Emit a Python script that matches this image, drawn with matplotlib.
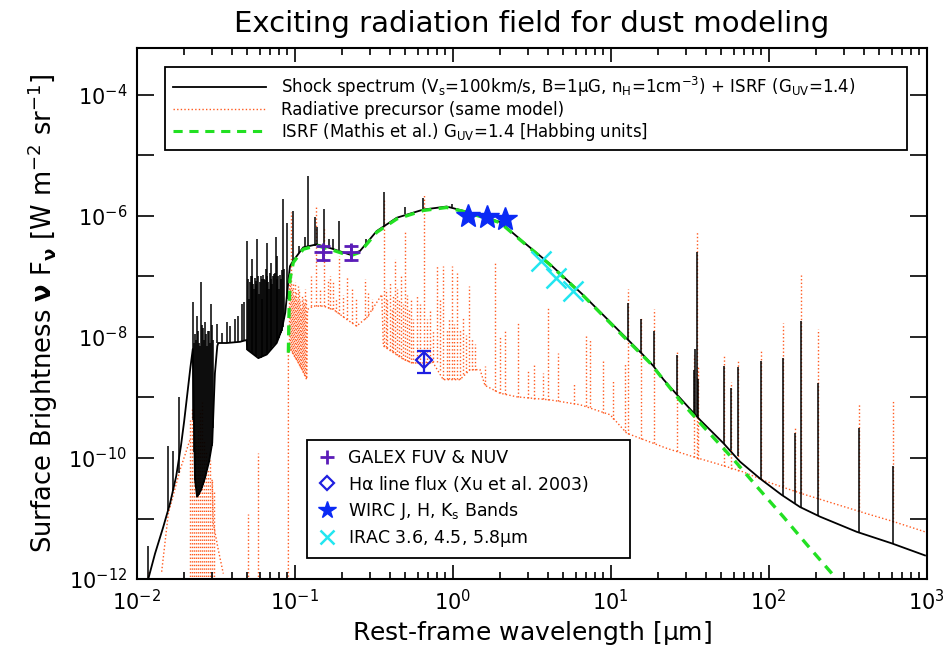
import numpy as np
import matplotlib
matplotlib.use("Agg")
import matplotlib.pyplot as plt
from matplotlib.lines import Line2D
from matplotlib.ticker import FixedLocator, FuncFormatter, NullFormatter

plt.rcParams["font.family"] = "DejaVu Sans"
plt.rcParams["mathtext.fontset"] = "dejavusans"
plt.rcParams["mathtext.default"] = "regular"

# Spectra, stored as log10(lambda / um) and log10(nu F_nu / W m-2 sr-1)

# ISRF (Mathis), G_UV = 1.4
isrf_loglam = [-1.040, -1.036, -1.030, -1.009, -0.946, -0.861, -0.777, -0.650, -0.587,
               -0.481, -0.354, -0.186, -0.038, 0.089, 0.299, 0.447, 0.613, 0.827,
               1.080, 1.249, 1.439, 1.586, 1.776, 1.924, 2.092, 2.241, 2.430]
isrf_logf = [-8.26, -7.60, -7.05, -6.77, -6.55, -6.49, -6.55, -6.66, -6.60,
             -6.27, -6.05, -5.91, -5.86, -5.94, -6.11, -6.44, -6.80, -7.32,
             -7.99, -8.43, -9.05, -9.48, -10.02, -10.47, -10.97, -11.43, -12.00]

# shock spectrum: continuum (lower envelope)
shock_loglam = [-1.950, -1.927, -1.884, -1.832, -1.789, -1.750, -1.720, -1.700, -1.680,
                -1.660, -1.645, -1.631, -1.618, -1.593, -1.568, -1.542, -1.522, -1.505,
                -1.490, -1.484, -1.430, -1.346, -1.304, -1.300, -1.230, -1.177, -1.114,
                -1.082, -1.060, -1.045, -1.030, -1.009, -0.946, -0.861, -0.777, -0.650,
                -0.587, -0.481, -0.354, -0.186, -0.038, 0.089, 0.299, 0.447, 0.613,
                0.827, 1.080, 1.206, 1.270, 1.333, 1.418, 1.565, 1.713, 1.818,
                1.945, 2.082, 2.198, 2.325, 2.557, 2.778, 2.989]
shock_logf = [-12.40, -12.00, -11.58, -11.14, -10.75, -10.30, -9.80, -9.40, -8.95,
              -8.50, -8.20, -10.36, -10.64, -10.53, -10.33, -10.06, -9.75, -8.60,
              -8.15, -8.10, -8.10, -8.08, -8.05, -8.21, -8.35, -8.29, -8.10,
              -7.88, -7.60, -7.20, -6.83, -6.74, -6.52, -6.47, -6.53, -6.64,
              -6.58, -6.25, -6.03, -5.895, -5.845, -5.93, -6.10, -6.43, -6.79,
              -7.31, -7.97, -8.30, -8.48, -8.70, -8.95, -9.37, -9.755, -10.06,
              -10.34, -10.61, -10.81, -10.97, -11.22, -11.41, -11.61]

# shock spectrum: emission lines (position, base, peak)
shock_line_loglam = [-1.927, -1.800, -1.768, -1.730,
                     -1.642, -1.637, -1.631, -1.624, -1.618, -1.612, -1.606, -1.599, -1.593,
                     -1.587, -1.580, -1.574, -1.568, -1.561, -1.555, -1.549, -1.542, -1.536,
                     -1.530, -1.523, -1.517,
                     -1.494, -1.462, -1.427, -1.409, -1.378, -1.361, -1.335, -1.321,
                     -1.300, -1.289, -1.278, -1.268, -1.258, -1.247, -1.237, -1.226, -1.215,
                     -1.205, -1.194, -1.184, -1.173, -1.163, -1.152, -1.142, -1.131, -1.120,
                     -1.110, -1.099, -1.089, -1.076, -1.065, -1.051,
                     -1.013, -0.971, -0.935, -0.918, -0.872, -0.861, -0.813, -0.781, -0.756,
                     -0.718, -0.644, -0.549, -0.433, -0.302, -0.186, -0.006,
                     1.108, 1.192, 1.272, 1.418, 1.527, 1.535, 1.544, 1.555, 1.718, 1.762,
                     1.803, 1.951, 2.089, 2.166, 2.203, 2.315, 2.573, 2.785]
shock_line_base = [-12.05, -10.86, -10.55, -10.25,
                   -9.37, -9.90, -10.36, -10.50, -10.64, -10.63, -10.61, -10.57, -10.53,
                   -10.49, -10.45, -10.39, -10.33, -10.27, -10.20, -10.13, -10.06, -9.97,
                   -9.87, -9.80, -9.50,
                   -8.10, -8.10, -8.10, -8.10, -8.09, -8.09, -8.08, -8.07,
                   -8.21, -8.24, -8.26, -8.27, -8.29, -8.31, -8.32, -8.34, -8.34,
                   -8.32, -8.31, -8.29, -8.27, -8.24, -8.21, -8.17, -8.14, -8.11,
                   -8.07, -8.01, -7.94, -7.84, -7.71, -7.38,
                   -6.74, -6.62, -6.55, -6.55, -6.50, -6.48, -6.49, -6.52, -6.54,
                   -6.57, -6.64, -6.46, -6.17, -5.97, -5.895, -5.845,
                   -8.05, -8.26, -8.48, -8.95, -9.27, -9.29, -9.31, -9.34, -9.77, -9.86,
                   -9.97, -10.35, -10.62, -10.75, -10.82, -10.96, -11.23, -11.42]
shock_line_peak = [-11.45, -9.81, -9.89, -9.00,
                   -7.43, -8.10, -7.95, -8.05, -7.65, -7.90, -8.10, -8.15, -7.10,
                   -7.80, -7.85, -8.05, -7.75, -7.95, -8.15, -7.90, -7.90, -8.10,
                   -7.46, -7.80, -8.05,
                   -7.79, -7.93, -7.76, -7.82, -7.71, -7.655, -7.46, -7.43,
                   -6.41, -7.38, -6.99, -6.715, -7.21, -7.13, -6.38, -7.29, -6.99,
                   -7.38, -7.05, -6.88, -6.44, -7.21, -6.77, -7.13, -6.96, -6.355,
                   -6.66, -7.21, -7.05, -5.72, -6.88, -6.11,
                   -5.914, -6.49, -6.355, -5.333, -6.023, -6.19, -5.886, -6.383, -6.38,
                   -6.08, -6.466, -6.383, -5.599, -5.857, -5.708, -5.80,
                   -7.433, -7.71, -7.904, -8.29, -8.54, -8.20, -6.604, -8.70, -8.48, -8.84,
                   -8.50, -8.40, -8.345, -9.59, -7.74, -8.76, -9.506, -10.14]

# shock spectrum: the dense line forest between 0.05 and 0.09 um
forest_loglam = [-1.295, -1.284, -1.273, -1.263, -1.252, -1.242, -1.231, -1.221, -1.210,
                 -1.200, -1.189, -1.178, -1.168, -1.157, -1.147, -1.136, -1.126, -1.115,
                 -1.104, -1.094, -1.083]
forest_base = [-8.22, -8.25, -8.26, -8.28, -8.30, -8.31, -8.33, -8.34, -8.33,
               -8.31, -8.30, -8.28, -8.25, -8.22, -8.19, -8.15, -8.12, -8.09,
               -8.04, -7.97, -7.90]
forest_peak = [-7.05, -7.10, -7.00, -7.12, -7.02, -7.08, -7.00, -7.10, -7.05,
               -6.98, -7.06, -7.00, -7.10, -6.95, -7.05, -7.00, -6.95, -7.05,
               -7.00, -6.98, -6.90]

# radiative precursor: continuum pieces
prec_fuv_loglam = [-1.842, -1.800, -1.726, -1.663]
prec_fuv_logf = [-11.88, -10.92, -10.20, -9.70]
prec_tail_loglam = [-1.523, -1.515, -1.485, -1.452]
prec_tail_logf = [-10.36, -11.08, -11.50, -11.91]
prec_loglam = [-1.040, -1.040, -0.966, -0.924, -0.919, -0.882, -0.819, -0.756, -0.671,
               -0.608, -0.544, -0.481, -0.449, -0.439, -0.313, -0.249, -0.188, -0.130,
               -0.060, 0.046, 0.110, 0.173, 0.204, 0.300, 0.407, 0.616, 0.806,
               0.996, 1.101, 1.354, 1.523, 1.692, 1.839, 1.987, 2.198, 2.409,
               2.620, 2.789, 2.989]
prec_logf = [-12.50, -8.15, -8.47, -8.705, -7.544, -7.49, -7.49, -7.544, -7.71,
             -7.82, -7.68, -7.43, -7.30, -8.15, -8.37, -8.43, -8.43, -8.40,
             -8.705, -8.705, -8.54, -8.54, -8.80, -8.93, -8.99, -9.04, -9.12,
             -9.285, -9.59, -9.84, -9.98, -10.11, -10.23, -10.39, -10.58, -10.75,
             -10.92, -11.05, -11.22]

# radiative precursor: lines (position, base, peak)
prec_line_loglam = [-1.927,
                    -1.663, -1.650, -1.637, -1.625, -1.612, -1.599, -1.587, -1.574, -1.561,
                    -1.549, -1.536, -1.523, -1.511, -1.297, -1.234,
                    -1.035, -1.029, -1.023, -1.016, -1.010, -1.004, -0.998, -0.991, -0.985,
                    -0.979, -0.972, -0.966, -0.960, -0.953, -0.947, -0.941, -0.934, -0.928,
                    -0.897, -0.865, -0.840, -0.813, -0.789, -0.777, -0.756, -0.739, -0.718,
                    -0.694, -0.671, -0.639, -0.612, -0.555, -0.534, -0.511,
                    -0.438, -0.425, -0.413, -0.400, -0.387, -0.375, -0.365, -0.353, -0.340,
                    -0.327, -0.315, -0.302, -0.289, -0.277, -0.264, -0.251,
                    -0.224, -0.207, -0.182, -0.163, -0.144, -0.125, -0.101, -0.080, -0.059,
                    -0.036, -0.023, -0.006, 0.008, 0.029, 0.046, 0.065, 0.084, 0.105,
                    0.122, 0.141,
                    0.204, 0.268, 0.299, 0.331, 0.415, 0.478, 0.515, 0.570, 0.605,
                    0.668, 0.768, 0.844, 0.869, 0.953, 1.016, 1.091,
                    1.108, 1.192, 1.272, 1.418, 1.527, 1.544, 1.555, 1.718, 1.762,
                    1.803, 1.951, 2.089, 2.166, 2.203, 2.315, 2.573, 2.785]
prec_line_base = [-12.50,
                  -12.50, -12.50, -12.50, -12.50, -12.50, -12.50, -12.50, -12.50, -12.50,
                  -12.50, -12.50, -12.50, -12.50, -12.50, -12.50,
                  -8.16, -8.19, -8.22, -8.25, -8.28, -8.31, -8.34, -8.37, -8.40,
                  -8.43, -8.46, -8.49, -8.52, -8.55, -8.58, -8.61, -8.64, -8.67,
                  -7.49, -7.49, -7.49, -7.49, -7.52, -7.53, -7.54, -7.58, -7.62,
                  -7.67, -7.71, -7.77, -7.82, -7.70, -7.65, -7.56,
                  -8.15, -8.17, -8.19, -8.21, -8.23, -8.25, -8.27, -8.29, -8.31,
                  -8.33, -8.36, -8.38, -8.40, -8.42, -8.43, -8.43,
                  -8.43, -8.43, -8.43, -8.43, -8.43, -8.42, -8.41, -8.55, -8.70,
                  -8.70, -8.70, -8.70, -8.70, -8.70, -8.70, -8.62, -8.58, -8.54,
                  -8.54, -8.54,
                  -8.80, -8.90, -8.93, -8.95, -8.99, -9.01, -9.02, -9.03, -9.04,
                  -9.06, -9.10, -9.14, -9.16, -9.25, -9.36, -9.55,
                  -9.60, -9.68, -9.76, -9.89, -9.98, -10.00, -10.01, -10.13, -10.18,
                  -10.21, -10.35, -10.47, -10.55, -10.58, -10.67, -10.87, -11.05]
prec_line_peak = [-11.88,
                  -9.37, -9.15, -9.53, -9.70, -9.53, -9.20, -9.08, -9.70, -9.87,
                  -10.20, -10.03, -10.36, -10.53, -10.92, -9.92,
                  -7.05, -6.99, -5.93, -7.20, -7.13, -7.30, -7.10, -7.25, -7.38,
                  -7.15, -7.21, -7.40, -7.54, -7.30, -7.38, -7.45, -7.21, -7.35,
                  -7.00, -5.83, -7.21, -6.19, -7.05, -6.99, -7.10, -7.38, -6.66,
                  -7.30, -6.99, -7.21, -7.38, -7.05, -7.27, -7.38,
                  -5.72, -7.21, -7.38, -7.10, -7.54, -7.30, -6.715, -7.21, -7.38,
                  -6.96, -7.46, -6.245, -7.30, -7.54, -7.38, -7.71,
                  -7.30, -7.46, -5.64, -7.71, -7.54, -7.88, -6.83, -7.38, -6.83,
                  -7.876, -7.71, -6.826, -7.79, -6.935, -7.876, -7.68, -7.96, -7.157,
                  -8.04, -8.12,
                  -8.484, -6.743, -7.987, -7.876, -7.765, -8.539, -8.428, -8.594, -7.516,
                  -8.262, -8.760, -7.987, -8.041, -8.373, -8.705, -8.428,
                  -7.212, -7.68, -7.544, -8.25, -8.30, -6.245, -8.50, -8.32, -8.75,
                  -8.40, -8.196, -7.765, -9.48, -6.98, -7.876, -9.09, -9.065]

# photometry (wavelength in um, nu F_nu)
galex_lam = [0.1516, 0.2267]
galex_f = [2.5e-7, 2.5e-7]
galex_err = [[0.6e-7, 0.6e-7], [0.7e-7, 0.7e-7]]
halpha_lam = [0.6563]
halpha_f = [4.2e-9]
halpha_err = [[1.7e-9], [1.6e-9]]
wirc_lam = [1.25, 1.65, 2.15]
wirc_f = [1.0e-6, 9.5e-7, 8.9e-7]
irac_lam = [3.6, 4.5, 5.8]
irac_f = [1.8e-7, 9.6e-8, 5.75e-8]

ORANGE = "#ff5a1f"
GREEN = "#22e022"
PURPLE = "#5b1cb8"
BLUE = "#1f1fe0"
STAR = "#0a2af5"
CYAN = "#22e6f0"
DOTS = (0, (1, 1.6))


def dex(a):
    return 10.0 ** np.asarray(a, dtype=float)


fig = plt.figure(figsize=(9.5, 6.6), dpi=100)
ax = fig.add_axes([0.1439, 0.1227, 0.8316, 0.8045])
ax.set_xscale("log")
ax.set_yscale("log")

# radiative precursor
ax.plot(dex(prec_loglam), dex(prec_logf), color=ORANGE, lw=1.0, ls=DOTS, zorder=1)
ax.plot(dex(prec_fuv_loglam), dex(prec_fuv_logf), color=ORANGE, lw=1.0, ls=DOTS, zorder=1)
ax.plot(dex(prec_tail_loglam), dex(prec_tail_logf), color=ORANGE, lw=1.0, ls=DOTS, zorder=1)
ax.vlines(dex(prec_line_loglam), dex(prec_line_base), dex(prec_line_peak),
          colors=ORANGE, linewidth=1.0, linestyles=[DOTS], zorder=1)

# shock spectrum
ax.plot(dex(shock_loglam), dex(shock_logf), color="k", lw=1.3, zorder=2)
ax.vlines(dex(shock_line_loglam), dex(shock_line_base), dex(shock_line_peak),
          colors="k", linewidth=1.1, zorder=2)
ax.vlines(dex(forest_loglam), dex(forest_base), dex(forest_peak),
          colors="k", linewidth=1.1, zorder=2)

# ISRF
ax.plot(dex(isrf_loglam), dex(isrf_logf), color=GREEN, lw=2.4, dashes=(3, 2.2), zorder=3)

# data points
ax.errorbar(galex_lam, galex_f, yerr=galex_err, fmt="+", ms=13, mew=2, color=PURPLE,
            ecolor=PURPLE, elinewidth=1.8, capsize=5, capthick=1.8, zorder=5)
ax.errorbar(halpha_lam, halpha_f, yerr=halpha_err, fmt="D", ms=8, mew=1.6, mfc="none",
            color=BLUE, ecolor=BLUE, elinewidth=1.6, capsize=5, capthick=1.6, zorder=5)
ax.plot(wirc_lam, wirc_f, ls="none", marker="*", ms=18, color=STAR, mec=STAR, zorder=5)
ax.plot(irac_lam, irac_f, ls="none", marker="x", ms=14, mew=1.8, color=CYAN, zorder=5)

ax.set_xlim(1e-2, 1e3)
ax.set_ylim(1e-12, 10.0 ** -3.226)

# ticks
ax.xaxis.set_major_locator(FixedLocator([10.0 ** k for k in range(-2, 4)]))
ax.xaxis.set_minor_locator(FixedLocator([m * 10.0 ** k for k in range(-2, 3) for m in range(2, 10)]))
ax.xaxis.set_major_formatter(FuncFormatter(lambda v, p: r"$10^{%d}$" % round(np.log10(v))))
ax.xaxis.set_minor_formatter(NullFormatter())
ax.yaxis.set_major_locator(FixedLocator([10.0 ** k for k in range(-12, -3)]))
ax.yaxis.set_minor_locator(FixedLocator([]))


def ylab(v, p):
    e = int(round(np.log10(v)))
    return r"$10^{%d}$" % e if e % 2 == 0 else ""


ax.yaxis.set_major_formatter(FuncFormatter(ylab))
ax.tick_params(which="both", direction="in", top=True, right=True, labelsize=15, width=1.2)
ax.tick_params(axis="x", which="major", length=10, pad=7)
ax.tick_params(axis="x", which="minor", length=5)
ax.tick_params(axis="y", which="major", length=12.5, pad=7)
for s in ax.spines.values():
    s.set_linewidth(1.5)

ax.set_title("Exciting radiation field for dust modeling", fontsize=21, pad=11.5)
ax.set_xlabel(r"Rest-frame wavelength [$\mu$m]", fontsize=18, labelpad=4)
ax.set_ylabel(r"Surface Brightness $\mathbf{\nu}$ F$_{\mathbf{\nu}}$ [W m$^{-2}$ sr$^{-1}$]",
              fontsize=18.5, labelpad=6)

# legends
h1 = [Line2D([], [], color="k", lw=1.3),
      Line2D([], [], color=ORANGE, lw=1.0, ls=DOTS),
      Line2D([], [], color=GREEN, lw=2.2, dashes=(3, 2.2))]
l1 = [r"Shock spectrum (V$_{s}$=100km/s, B=1$\mu$G, n$_{H}$=1cm$^{-3}$) + ISRF (G$_{UV}$=1.4)",
      "Radiative precursor (same model)",
      r"ISRF (Mathis et al.) G$_{UV}$=1.4 [Habbing units]"]
leg1 = ax.legend(h1, l1, loc="upper left", bbox_to_anchor=(0.036, 0.80, 0.939, 0.164),
                 mode="expand", borderaxespad=0, fontsize=12, handlelength=5.6,
                 handletextpad=0.9, labelspacing=0.12, borderpad=0.45, fancybox=False,
                 framealpha=1, edgecolor="k")
leg1.get_frame().set_linewidth(1.3)
ax.add_artist(leg1)

h2 = [Line2D([], [], ls="none", marker="+", ms=10, mew=2, color=PURPLE),
      Line2D([], [], ls="none", marker="D", ms=7, mew=1.6, mfc="none", color=BLUE),
      Line2D([], [], ls="none", marker="*", ms=13, color=STAR),
      Line2D([], [], ls="none", marker="x", ms=10, mew=1.8, color=CYAN)]
l2 = ["GALEX FUV & NUV", r"H$\alpha$ line flux (Xu et al. 2003)",
      r"WIRC J, H, K$_{s}$ Bands", r"IRAC 3.6, 4.5, 5.8$\mu$m"]
leg2 = ax.legend(h2, l2, loc="upper left", bbox_to_anchor=(0.2156, 0.035, 0.409, 0.227),
                 mode="expand", borderaxespad=0, fontsize=12.5, handlelength=1.2,
                 handletextpad=0.6, labelspacing=0.35, borderpad=0.55, fancybox=False,
                 framealpha=1, edgecolor="k")
leg2.get_frame().set_linewidth(1.3)

fig.savefig("out.png", dpi=100)
